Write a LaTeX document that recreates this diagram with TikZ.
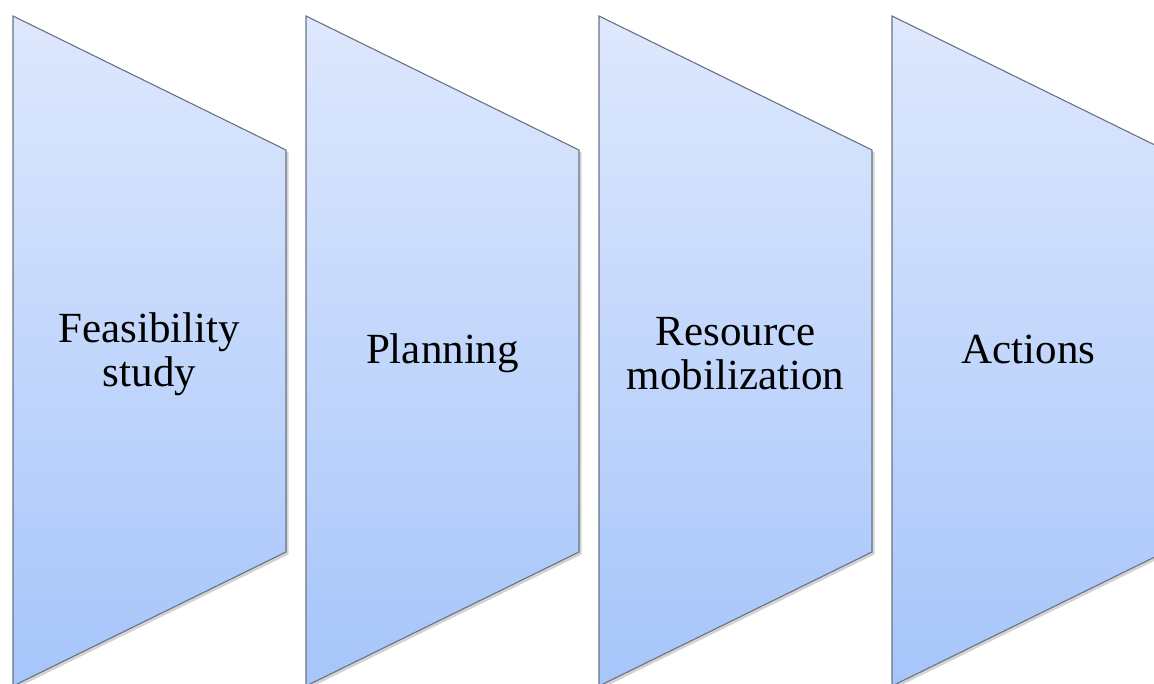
\documentclass[tikz,border=0pt]{standalone}
\usepackage{fontspec}
\setmainfont{Liberation Serif}
\usetikzlibrary{shadows}

\definecolor{stagetop}{RGB}{222,232,253}
\definecolor{stagebot}{RGB}{166,197,250}
\definecolor{stageline}{RGB}{105,115,130}

\begin{document}
\begin{tikzpicture}[x=1pt, y=-1pt,
		stage/.style = {draw=stageline, line width=1.1pt, top color=stagetop, bottom color=stagebot,
			drop shadow={shadow xshift=2.5pt, shadow yshift=-2.5pt, opacity=0.35}},
		label/.style = {align=center, font=\fontsize{43}{44}\selectfont}]
	\useasboundingbox (0,0) rectangle (1154,684);
	\clip (0,0) rectangle (1154,684);
	\foreach \x in {13,306,599,892}
		\draw[stage] (\x,16) -- (\x+273,150) -- (\x+273,552) -- (\x,686) -- cycle;
	\node[label] (feasibility) at (149.5,354) {Feasibility\\study};
	\node[label] (planning) at (442.5,353) {Planning};
	\node[label] (resource) at (735.5,354) {Resource\\mobilization};
	\node[label] (actions) at (1028.5,349) {Actions};
\end{tikzpicture}
\end{document}
